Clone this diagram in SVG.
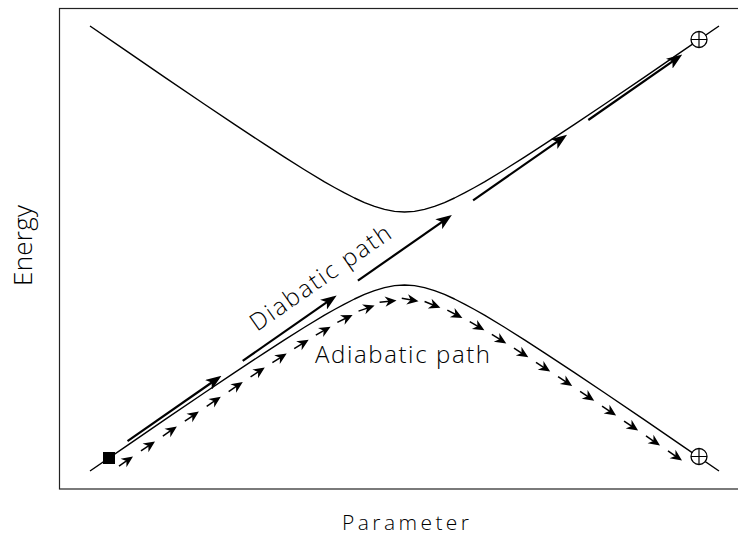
<svg xmlns="http://www.w3.org/2000/svg" xmlns:xlink="http://www.w3.org/1999/xlink" width="738" height="537" viewBox="0 0 738 537">
<style>
.frame{fill:none;stroke:#222;stroke-width:1.2}
.curve{fill:none;stroke:#000;stroke-width:1.4;stroke-linejoin:round}
.dia{fill:none;stroke:#000;stroke-width:2.2;marker-end:url(#ah)}
.lbl{font-family:"Open Sans","Liberation Sans",sans-serif;font-weight:300;fill:#000}
.mk{fill:#fff;stroke:#000;stroke-width:1.3}
</style>
<defs>
<marker id="ah" markerUnits="userSpaceOnUse" markerWidth="16" markerHeight="12" viewBox="0 0 16 12" refX="12" refY="6" orient="auto"><path d="M0,0 L16,6 L0,12 L4,6 Z" fill="#000"/></marker>
<g id="sa"><path d="M-17,0 H-7" stroke="#000" stroke-width="1.5"/><path d="M0,0 L-11.5,-5.2 L-8,0 L-11.5,5.2 Z" fill="#000"/></g>
</defs>
<rect id="frame" class="frame" x="59.5" y="8.5" width="700" height="480.5"/>
<g id="curves">
<polyline id="upper" class="curve" points="90,25.97 124.5,49.68 164.5,77.05 204.5,104.21 234.5,124.35 264.5,144.19 284.5,157.13 304.5,169.73 324.5,181.79 334.5,187.51 344.5,192.95 354.5,198 364.5,202.55 374.5,206.42 384.5,209.42 394.5,211.34 404.5,212 414.5,211.34 424.5,209.42 434.5,206.42 444.5,202.55 454.5,198 464.5,192.95 474.5,187.51 484.5,181.79 504.5,169.73 524.5,157.13 544.5,144.19 574.5,124.35 604.5,104.21 644.5,77.05 684.5,49.68 719,25.97"/>
<polyline id="lower" class="curve" points="90,471.03 124.5,447.32 164.5,419.95 204.5,392.79 234.5,372.65 264.5,352.81 284.5,339.87 304.5,327.27 324.5,315.21 334.5,309.49 344.5,304.05 354.5,299 364.5,294.45 374.5,290.58 384.5,287.58 394.5,285.66 404.5,285 414.5,285.66 424.5,287.58 434.5,290.58 444.5,294.45 454.5,299 464.5,304.05 474.5,309.49 484.5,315.21 504.5,327.27 524.5,339.87 544.5,352.81 574.5,372.65 604.5,392.79 644.5,419.95 684.5,447.32 719,471.03"/>
</g>
<g id="diabatic-arrows">
<line class="dia" x1="127.5" y1="441.2" x2="218.2" y2="378.0"/>
<line class="dia" x1="242.7" y1="360.9" x2="333.4" y2="297.7"/>
<line class="dia" x1="357.9" y1="280.6" x2="448.6" y2="217.4"/>
<line class="dia" x1="473.1" y1="200.3" x2="563.8" y2="137.1"/>
<line class="dia" x1="588.3" y1="120.0" x2="679.0" y2="56.8"/>
</g>
<g id="adiabatic-arrows">
<use xlink:href="#sa" transform="translate(133.0,456.5) rotate(-34.4)"/>
<use xlink:href="#sa" transform="translate(155.0,441.4) rotate(-34.3)"/>
<use xlink:href="#sa" transform="translate(176.9,426.5) rotate(-34.2)"/>
<use xlink:href="#sa" transform="translate(198.9,411.6) rotate(-34.1)"/>
<use xlink:href="#sa" transform="translate(220.8,396.8) rotate(-33.9)"/>
<use xlink:href="#sa" transform="translate(242.8,382.1) rotate(-33.6)"/>
<use xlink:href="#sa" transform="translate(264.8,367.6) rotate(-33.2)"/>
<use xlink:href="#sa" transform="translate(286.7,353.5) rotate(-32.5)"/>
<use xlink:href="#sa" transform="translate(308.7,339.7) rotate(-31.5)"/>
<use xlink:href="#sa" transform="translate(330.6,326.7) rotate(-29.7)"/>
<use xlink:href="#sa" transform="translate(352.6,314.9) rotate(-26.2)"/>
<use xlink:href="#sa" transform="translate(374.6,305.6) rotate(-19.1)"/>
<use xlink:href="#sa" transform="translate(396.5,300.4) rotate(-6.0)"/>
<use xlink:href="#sa" transform="translate(418.5,301.3) rotate(10.2)"/>
<use xlink:href="#sa" transform="translate(440.4,307.8) rotate(21.6)"/>
<use xlink:href="#sa" transform="translate(462.4,318.0) rotate(27.4)"/>
<use xlink:href="#sa" transform="translate(484.4,330.2) rotate(30.3)"/>
<use xlink:href="#sa" transform="translate(506.3,343.4) rotate(31.8)"/>
<use xlink:href="#sa" transform="translate(528.3,357.3) rotate(32.7)"/>
<use xlink:href="#sa" transform="translate(550.2,371.6) rotate(33.3)"/>
<use xlink:href="#sa" transform="translate(572.2,386.1) rotate(33.7)"/>
<use xlink:href="#sa" transform="translate(594.2,400.8) rotate(33.9)"/>
<use xlink:href="#sa" transform="translate(616.1,415.6) rotate(34.1)"/>
<use xlink:href="#sa" transform="translate(638.1,430.6) rotate(34.3)"/>
<use xlink:href="#sa" transform="translate(660.0,445.5) rotate(34.4)"/>
<use xlink:href="#sa" transform="translate(682.0,460.6) rotate(34.5)"/>
</g>
<g id="start"><rect x="103" y="452" width="12" height="12" fill="#000"/></g>
<g id="end-upper"><circle class="mk" cx="699" cy="39.5" r="8"/><path d="M691,39.5 H707 M699,31.5 V47.5" stroke="#000" stroke-width="1.2"/></g>
<g id="end-lower"><circle class="mk" cx="699" cy="456.5" r="8"/><path d="M691,456.5 H707 M699,448.5 V464.5" stroke="#000" stroke-width="1.2"/></g>
<g id="labels">
<text class="lbl" x="257" y="332" font-size="24" textLength="166" lengthAdjust="spacing" transform="rotate(-34.9 257 332)">Diabatic path</text>
<text class="lbl" x="315" y="363" font-size="24" textLength="175" lengthAdjust="spacing">Adiabatic path</text>
<text class="lbl" x="342" y="530" font-size="21" textLength="127" lengthAdjust="spacing">Parameter</text>
<text class="lbl" x="32" y="286" font-size="26" textLength="81" lengthAdjust="spacing" transform="rotate(-90 32 286)">Energy</text>
</g>
</svg>
